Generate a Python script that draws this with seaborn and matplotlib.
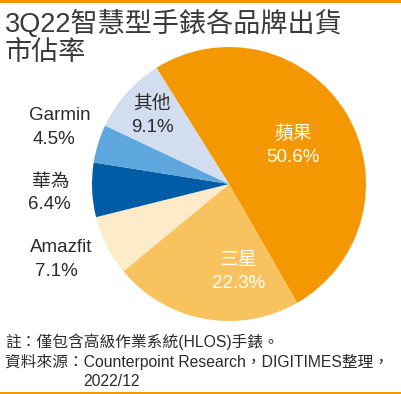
import matplotlib.pyplot as plt
import matplotlib.patches as mpatches
import seaborn as sns

# data
brands = ["蘋果", "三星", "Amazfit", "華為", "Garmin", "其他"]
shares = [50.6, 22.3, 7.1, 6.4, 4.5, 9.1]
colors = ["#F39800", "#F8C25E", "#FDEBC9", "#005CA4", "#5DA7DE", "#D3DDF0"]

title = "3Q22智慧型手錶各品牌出貨\n市佔率"
notes = ["註：僅包含高級作業系統(HLOS)手錶。",
         "資料來源：Counterpoint Research，DIGITIMES整理，",
         "2022/12"]

sns.set_theme(style="white")
plt.rcParams["font.family"] = ["Liberation Sans", "Noto Sans CJK TC", "DejaVu Sans"]

W, H = 402, 394
fig = plt.figure(figsize=(W / 100, H / 100), dpi=100)
fig.patch.set_facecolor("white")

# pie axes: center ~ (229,184) px, radius ~137 px
cx, cy, r = 229, 184, 137
ax = fig.add_axes([(cx - r) / W, 1 - (cy + r) / H, 2 * r / W, 2 * r / H])
ax.pie(shares, colors=colors, startangle=122, counterclock=False,
       wedgeprops=dict(linewidth=0))
ax.set_xlim(-1, 1)
ax.set_ylim(-1, 1)
ax.axis("off")

def px(x, y):
    return x / W, 1 - y / H

dark = "#2b2b2b"
# label placement (pixel centres): name, pct, colour
label_pos = {
    "蘋果": ((293, 134), (293, 158), "white"),
    "三星": ((239, 261), (239, 284), "white"),
    "其他": ((152, 104), (152, 128), dark),
    "Garmin": ((60, 116), (54, 140), dark),
    "華為": ((51, 182), (49, 205), dark),
    "Amazfit": ((61, 247), (56, 271), dark),
}
for b, s in zip(brands, shares):
    (nx, ny), (qx, qy), c = label_pos[b]
    fig.text(*px(nx, ny), b, ha="center", va="center", fontsize=13.5, color=c)
    fig.text(*px(qx, qy), f"{s:.1f}%", ha="center", va="center", fontsize=13.5, color=c)

fig.text(*px(5, 38), title, ha="left", va="center", fontsize=19.5, color="#3a3a3a",
         linespacing=1.12)

note_pos = [(5, 342), (5, 362), (83, 381)]
for (x, y), line in zip(note_pos, notes):
    fig.text(*px(x, y), line, ha="left", va="center", fontsize=11.3, color=dark)

# orange rules top and bottom
fig.add_artist(mpatches.Rectangle((0, 1 - 3 / H), 1, 3 / H, transform=fig.transFigure,
                                  color="#F39800", lw=0))
fig.add_artist(mpatches.Rectangle((0, 0), 1, 2 / H, transform=fig.transFigure,
                                  color="#F39800", lw=0))

plt.savefig("out.png", dpi=100)
